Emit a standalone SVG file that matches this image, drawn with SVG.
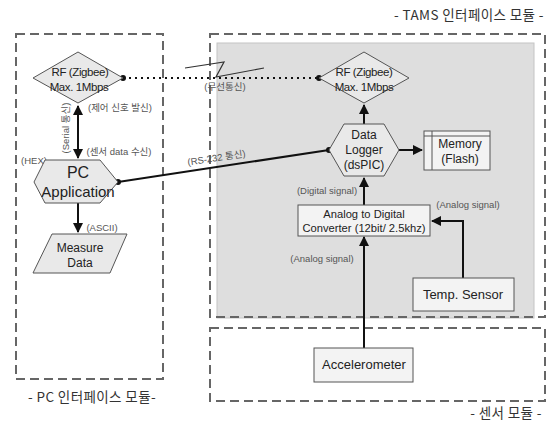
<svg xmlns="http://www.w3.org/2000/svg" width="552" height="423" viewBox="0 0 552 423">
<style>
.mod{fill:none;stroke:#666;stroke-width:2;stroke-dasharray:9,5}
.shp{fill:#e9e9e9;stroke:#555;stroke-width:1}
.box{fill:#f3f3f3;stroke:#555;stroke-width:1}
.t{font-family:"Liberation Sans","Noto Sans CJK KR",sans-serif;font-size:12px;fill:#222;text-anchor:middle}
.ts{font-family:"Liberation Sans","Noto Sans CJK KR",sans-serif;font-size:11.5px;fill:#222;text-anchor:middle;letter-spacing:-0.4px}
.lb{font-family:"Liberation Sans","Noto Sans CJK KR",sans-serif;font-size:9.5px;fill:#555;text-anchor:middle}
.ml{font-family:"Noto Sans CJK KR",sans-serif;font-size:13.5px;fill:#333;text-anchor:middle;letter-spacing:0.4px}
.ln{fill:none;stroke:#111;stroke-width:2}
</style>
<defs>
<marker id="ah" viewBox="0 0 10 10" refX="9" refY="5" markerWidth="5" markerHeight="5" orient="auto-start-reverse">
<path d="M0,0 L10,5 L0,10 z" fill="#111"/>
</marker>
</defs>
<rect width="552" height="423" fill="#fff"/>
<g id="modules">
<rect x="217" y="43" width="317" height="275" fill="#dedede" stroke="#c4c4c4" stroke-width="1"/>
<rect class="mod" x="16" y="34" width="147" height="345"/>
<rect class="mod" x="210" y="34" width="335" height="283"/>
<rect class="mod" x="210" y="328" width="335" height="73"/>
<text class="ml" x="92" y="402">- PC 인터페이스 모듈-</text>
<text class="ml" x="469" y="20">- TAMS 인터페이스 모듈 -</text>
<text class="ml" x="506" y="418">- 센서 모듈 -</text>
</g>
<g id="connectors">
<line x1="123" y1="78" x2="319" y2="78" stroke="#111" stroke-width="2" stroke-dasharray="2,4"/>
<circle cx="123" cy="78" r="3" fill="#111"/>
<circle cx="319" cy="78" r="3" fill="#111"/>
<polyline points="185,68 224,62 216,77 264,68" fill="none" stroke="#333" stroke-width="1.2"/>
<text class="lb" x="225" y="90">(무선통신)</text>
<line class="ln" x1="78" y1="106" x2="78" y2="158" marker-start="url(#ah)" marker-end="url(#ah)"/>
<text class="lb" transform="translate(69,128) rotate(-90)">(Serial 통신)</text>
<text class="lb" x="120" y="111">(제어 신호 발신)</text>
<text class="lb" x="119" y="155">(센서 data 수신)</text>
<text class="lb" x="34" y="164">(HEX)</text>
<line class="ln" x1="78" y1="203" x2="78" y2="232" marker-end="url(#ah)"/>
<text class="lb" x="102" y="231">(ASCII)</text>
<line class="ln" x1="118" y1="182" x2="329" y2="150"/>
<circle cx="118" cy="182" r="3" fill="#111"/>
<circle cx="329" cy="150" r="3" fill="#111"/>
<text class="lb" transform="translate(217,161) rotate(-8.6)">(RS-232 통신)</text>
<line class="ln" x1="364" y1="124" x2="364" y2="105" marker-end="url(#ah)"/>
<line class="ln" x1="399" y1="150" x2="422" y2="150" marker-end="url(#ah)"/>
<line class="ln" x1="364" y1="205" x2="364" y2="178" marker-end="url(#ah)"/>
<text class="lb" x="327" y="194">(Digital signal)</text>
<polyline class="ln" points="463,278 463,221 432,221" marker-end="url(#ah)"/>
<text class="lb" x="468" y="208">(Analog signal)</text>
<line class="ln" x1="364" y1="348" x2="364" y2="237" marker-end="url(#ah)"/>
<text class="lb" x="322" y="262">(Analog signal)</text>
</g>
<g id="rf-left">
<polygon class="shp" points="33,78 78,52 123,78 78,103"/>
<text class="ts" x="80" y="76">RF (Zigbee)</text>
<text class="ts" x="79" y="91">Max. 1Mbps</text>
</g>
<g id="rf-right">
<polygon class="shp" points="319,78 364,52 409,78 364,103"/>
<text class="ts" x="364" y="76">RF (Zigbee)</text>
<text class="ts" x="364" y="91">Max. 1Mbps</text>
</g>
<g id="pc-app">
<polygon class="shp" points="34,182 45,160 100,160 118,182 100,203 45,203"/>
<text class="t" x="78" y="178" style="font-size:16px">PC</text>
<text class="t" x="78" y="197" style="font-size:15px">Application</text>
</g>
<g id="measure-data">
<polygon class="shp" points="52,234 127,234 110,273 33,273"/>
<text class="t" x="80" y="252">Measure</text>
<text class="t" x="80" y="267">Data</text>
</g>
<g id="data-logger">
<polygon class="shp" points="329,150 344,124 384,124 399,150 384,176 344,176"/>
<text class="t" x="364" y="139">Data</text>
<text class="t" x="364" y="154">Logger</text>
<text class="t" x="364" y="169">(dsPIC)</text>
</g>
<g id="memory">
<rect class="box" x="424" y="131" width="66" height="39"/>
<line x1="424" y1="136" x2="490" y2="136" stroke="#555" stroke-width="1"/>
<line x1="432" y1="131" x2="432" y2="170" stroke="#555" stroke-width="1"/>
<text class="t" x="460" y="148">Memory</text>
<text class="t" x="460" y="163">(Flash)</text>
</g>
<g id="adc">
<rect class="box" x="298" y="205" width="132" height="31"/>
<text class="t" x="364" y="218" style="font-size:11.2px">Analog to Digital</text>
<text class="t" x="364" y="232" style="font-size:11.2px">Converter (12bit/ 2.5khz)</text>
</g>
<g id="temp-sensor">
<rect class="box" x="413" y="278" width="101" height="33"/>
<text class="t" x="463" y="299" style="font-size:13px">Temp. Sensor</text>
</g>
<g id="accelerometer">
<rect class="box" x="314" y="348" width="99" height="34"/>
<text class="t" x="364" y="369" style="font-size:13px">Accelerometer</text>
</g>
</svg>
